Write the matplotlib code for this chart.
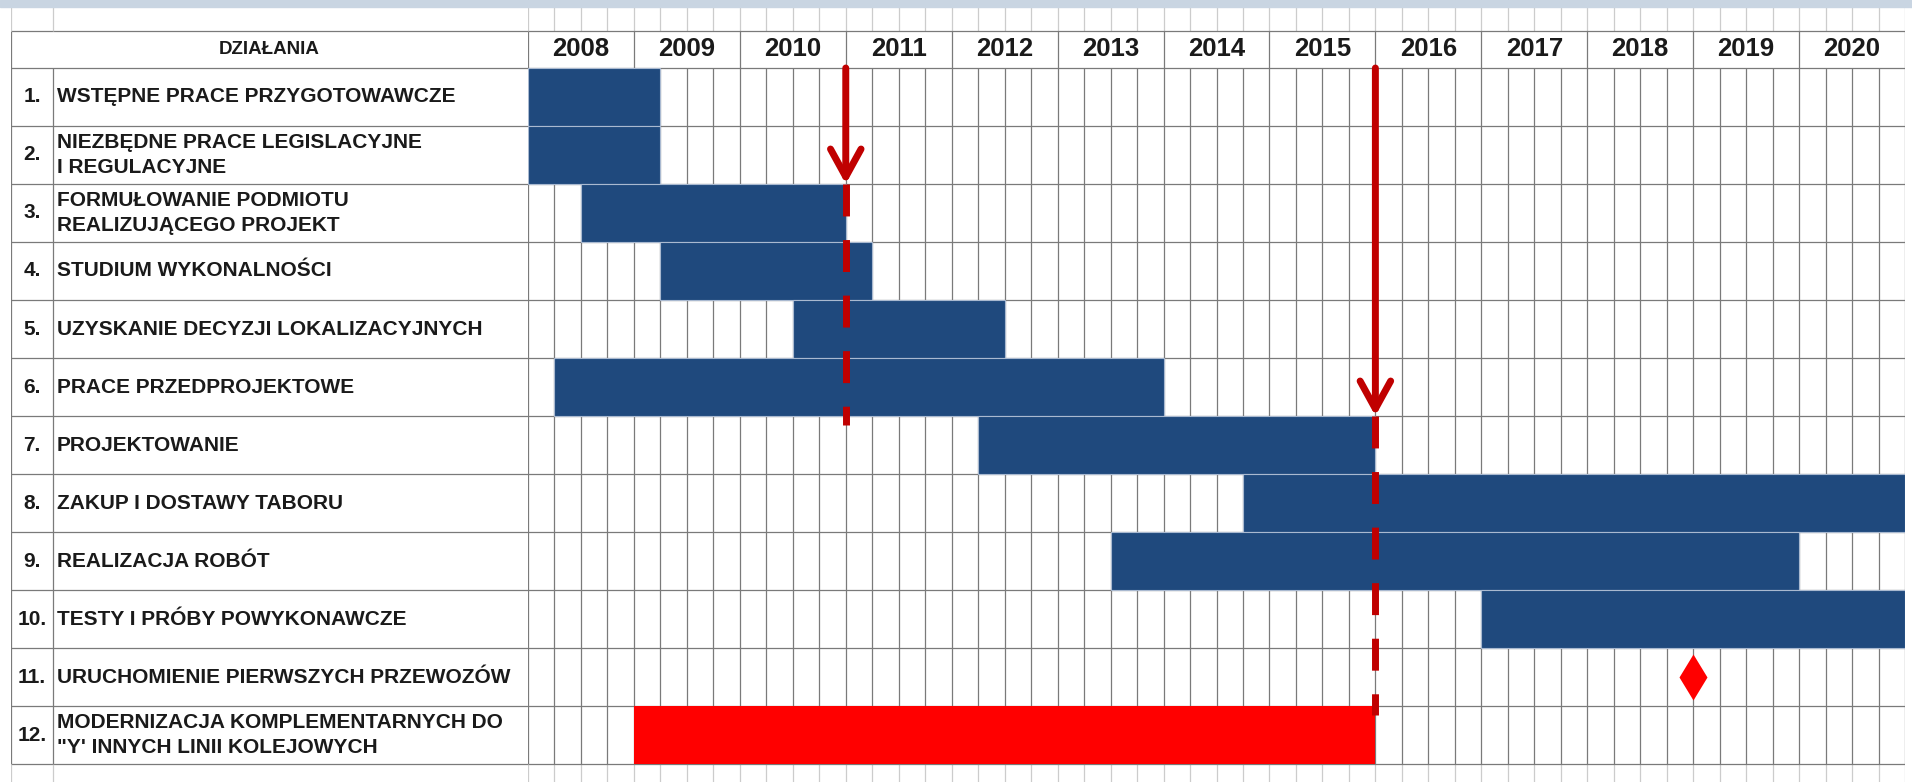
"""plot.py: harmonogram (wykres Gantta) realizacji projektu, zapis do out.png"""

import numpy as np
import matplotlib.pyplot as plt
from matplotlib.patches import Rectangle

plt.rcParams['font.family'] = ['Liberation Sans', 'DejaVu Sans']

# ---- dane ----
numbers = ['1.', '2.', '3.', '4.', '5.', '6.', '7.', '8.', '9.', '10.', '11.', '12.']
tasks = [
    'WSTĘPNE PRACE PRZYGOTOWAWCZE',
    'NIEZBĘDNE PRACE LEGISLACYJNE\nI REGULACYJNE',
    'FORMUŁOWANIE PODMIOTU\nREALIZUJĄCEGO PROJEKT',
    'STUDIUM WYKONALNOŚCI',
    'UZYSKANIE DECYZJI LOKALIZACYJNYCH',
    'PRACE PRZEDPROJEKTOWE',
    'PROJEKTOWANIE',
    'ZAKUP I DOSTAWY TABORU',
    'REALIZACJA ROBÓT',
    'TESTY I PRÓBY POWYKONAWCZE',
    'URUCHOMIENIE PIERWSZYCH PRZEWOZÓW',
    'MODERNIZACJA KOMPLEMENTARNYCH DO\n"Y\' INNYCH LINII KOLEJOWYCH',
]
years = list(range(2008, 2021))

# niebieskie paski (wiersze 1-10)
blue_rows = [1, 2, 3, 4, 5, 6, 7, 8, 9, 10]
blue_start = [2008.0, 2008.0, 2008.5, 2009.25, 2010.5, 2008.25, 2012.25, 2014.75, 2013.5, 2017.0]
blue_end = [2009.25, 2009.25, 2011.0, 2011.25, 2012.5, 2014.0, 2016.0, 2021.0, 2020.0, 2021.0]

# czerwony pasek (wiersz 12)
red_rows = [12]
red_start = [2009.0]
red_end = [2016.0]

# kamien milowy (wiersz 11)
milestone_row = [11]
milestone_x = [2019.0]

# czerwone strzalki
arrow_x = [2011.0, 2016.0]
arrow_tip = [2.5, 6.5]
arrow_dash_end = [6.65, 11.65]

# ---- uklad (piksele) ----
W, H = 1912, 782
left_px, gantt_px, right_px = 11, 528, 1905
top_px = 7
first_row_px = 68
row_h = 58
header_h = 37

GRID = '#7a7a7a'
LIGHT = '#cccccc'
BLUE = '#1f497d'
ARROW = '#c00000'
TXT = '#1a1a1a'

fig = plt.figure(figsize=(W / 100, H / 100), dpi=100)
fig.patch.set_facecolor('white')

# pasek tla u gory
fig.patches.append(Rectangle((0, (H - top_px) / H), 1, top_px / H,
                             transform=fig.transFigure, color='#c9d5e2', zorder=0))

ax_h = (H - top_px) / H
ax = fig.add_axes([gantt_px / W, 0, (right_px - gantt_px) / W, ax_h])
ax_tab = fig.add_axes([left_px / W, 0, (gantt_px - left_px) / W, ax_h], sharey=ax)

y_top = 0.5 - (first_row_px - top_px) / row_h
y_bot = 0.5 + (H - first_row_px) / row_h
y_head = 0.5 - header_h / row_h
n = len(tasks)
body_top, body_bot = 0.5, n + 0.5

ax.set_xlim(years[0], years[-1] + 1)
ax.set_ylim(y_bot, y_top)
ax_tab.set_xlim(0, 1)
for a in (ax, ax_tab):
    a.set_axis_off()

# siatka kwartalna
quarters = np.arange(years[0], years[-1] + 1.001, 0.25)
ax.vlines(quarters, body_top, body_bot, color=GRID, lw=0.9, zorder=1)
ax.vlines(quarters, y_top, y_head, color=LIGHT, lw=0.9, zorder=1)
ax.vlines(quarters, body_bot, y_bot, color=LIGHT, lw=0.9, zorder=1)
year_lines = np.arange(years[0], years[-1] + 2)
ax.vlines(year_lines, y_head, body_top, color=GRID, lw=0.9, zorder=1)

row_lines = np.concatenate([[y_head], np.arange(0.5, n + 1.0, 1.0)])
ax.hlines(row_lines, years[0], years[-1] + 1, color=GRID, lw=0.9, zorder=1)
ax_tab.hlines(row_lines, 0, 1, color=GRID, lw=0.9, zorder=1)

# linie tabeli opisow
num_div = (53 - left_px) / (gantt_px - left_px)
ax_tab.vlines([0], y_head, body_bot, color=GRID, lw=0.9)
ax_tab.vlines([0, num_div], [y_top, y_top], [y_head, y_head], color=LIGHT, lw=0.9)
ax_tab.vlines([0, num_div], [body_bot, body_bot], [y_bot, y_bot], color=LIGHT, lw=0.9)
ax_tab.vlines([num_div], body_top, body_bot, color=GRID, lw=0.9)

# naglowki
head_mid = (y_head + body_top) / 2
for yr in years:
    ax.text(yr + 0.5, head_mid, str(yr), ha='center', va='center',
            fontsize=18.5, fontweight='bold', color=TXT)
ax_tab.text(0.5, head_mid, 'DZIAŁANIA', ha='center', va='center',
            fontsize=13.5, fontweight='bold', color=TXT)

# opisy dzialan
text_x = (57 - left_px) / (gantt_px - left_px)
num_x = (32 - left_px) / (gantt_px - left_px)
for i, (num, task) in enumerate(zip(numbers, tasks)):
    row = i + 1
    ax_tab.text(num_x, row, num, ha='center', va='center',
                fontsize=15, fontweight='bold', color=TXT)
    lines = task.split('\n')
    if len(lines) == 1:
        ax_tab.text(text_x, row, lines[0], ha='left', va='center',
                    fontsize=15, fontweight='bold', color=TXT)
    else:
        for k, line in enumerate(lines):
            ax_tab.text(text_x, row - 0.215 + 0.43 * k, line, ha='left', va='center',
                        fontsize=15, fontweight='bold', color=TXT)

# paski
ax.barh(blue_rows, np.array(blue_end) - np.array(blue_start), left=blue_start,
        height=1.0, color=BLUE, edgecolor='#a9b9d0', linewidth=0.8, zorder=2)
ax.barh(red_rows, np.array(red_end) - np.array(red_start), left=red_start,
        height=1.0, color='#ff0000', edgecolor='none', zorder=2)

# kamien milowy
ax.plot(milestone_x, milestone_row, linestyle='none', marker='d', markersize=23,
        color='#ff0000', markeredgecolor='none', zorder=4)

# strzalki z przerywana kontynuacja
for x, tip, end in zip(arrow_x, arrow_tip, arrow_dash_end):
    ax.annotate('', xy=(x, tip), xytext=(x, body_top),
                arrowprops=dict(arrowstyle='->,head_length=2.0,head_width=1.1',
                                color=ARROW, lw=5, shrinkA=0, shrinkB=0),
                zorder=5)
    ax.plot([x, x], [tip, end], color=ARROW, lw=5, linestyle=(0, (4.6, 3.4)),
            dash_capstyle='butt', zorder=5)

fig.savefig('out.png', dpi=100)
